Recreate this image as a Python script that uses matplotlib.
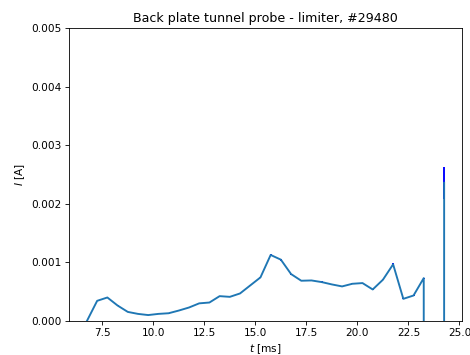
import matplotlib
matplotlib.use("Agg")
import matplotlib.pyplot as plt
import numpy as np

t = [6.75, 7.25, 7.75, 8.25, 8.75, 9.25, 9.75, 10.25, 10.75, 11.25, 11.75,
     12.25, 12.75, 13.25, 13.75, 14.25, 14.75, 15.25, 15.75, 16.25, 16.75,
     17.25, 17.75, 18.25, 18.75, 19.25, 19.75, 20.25, 20.75, 21.25, 21.75,
     22.25, 22.75, 23.25, 23.75, 24.25]
current = [0.0, 0.000343, 0.0004, 0.000263, 0.000154, 0.00012, 0.0001, 0.00012,
           0.000131, 0.000177, 0.000229, 0.0003, 0.000314, 0.000423, 0.000411,
           0.000469, 0.000606, 0.000743, 0.001126, 0.001046, 0.0008, 0.000686,
           0.000691, 0.000663, 0.000623, 0.000589, 0.000634, 0.000646, 0.000537,
           0.000703, 0.000966, 0.000377, 0.000434, 0.000731, -1.0, 0.002358]
err = [0.000005, 0.000005, 0.000005, 0.000005, 0.000005, 0.000005, 0.000005,
       0.000005, 0.000005, 0.000005, 0.000005, 0.000005, 0.000005, 0.000005,
       0.000005, 0.000005, 0.000008, 0.000008, 0.000015, 0.000018, 0.000008,
       0.000008, 0.000015, 0.000015, 0.000008, 0.000008, 0.000008, 0.000008,
       0.000008, 0.000008, 0.000018, 0.000008, 0.000008, 0.000008, 0.0,
       0.00027]

DPI = 76
fig = plt.figure(figsize=(470 / DPI, 355 / DPI), dpi=DPI)
ax = fig.add_axes([0.147, 0.096, 0.836, 0.825])
ax.errorbar(t, current, yerr=err, color='tab:blue', ecolor='blue',
            lw=1.8, elinewidth=1.8)
ax.set_xlim(5.875, 25.125)
ax.set_ylim(0, 0.005)
ax.set_title('Back plate tunnel probe - limiter, #29480')
ax.set_xlabel('$t$ [ms]')
ax.set_ylabel('$I$ [A]')
fig.savefig('out.png', dpi=DPI)
